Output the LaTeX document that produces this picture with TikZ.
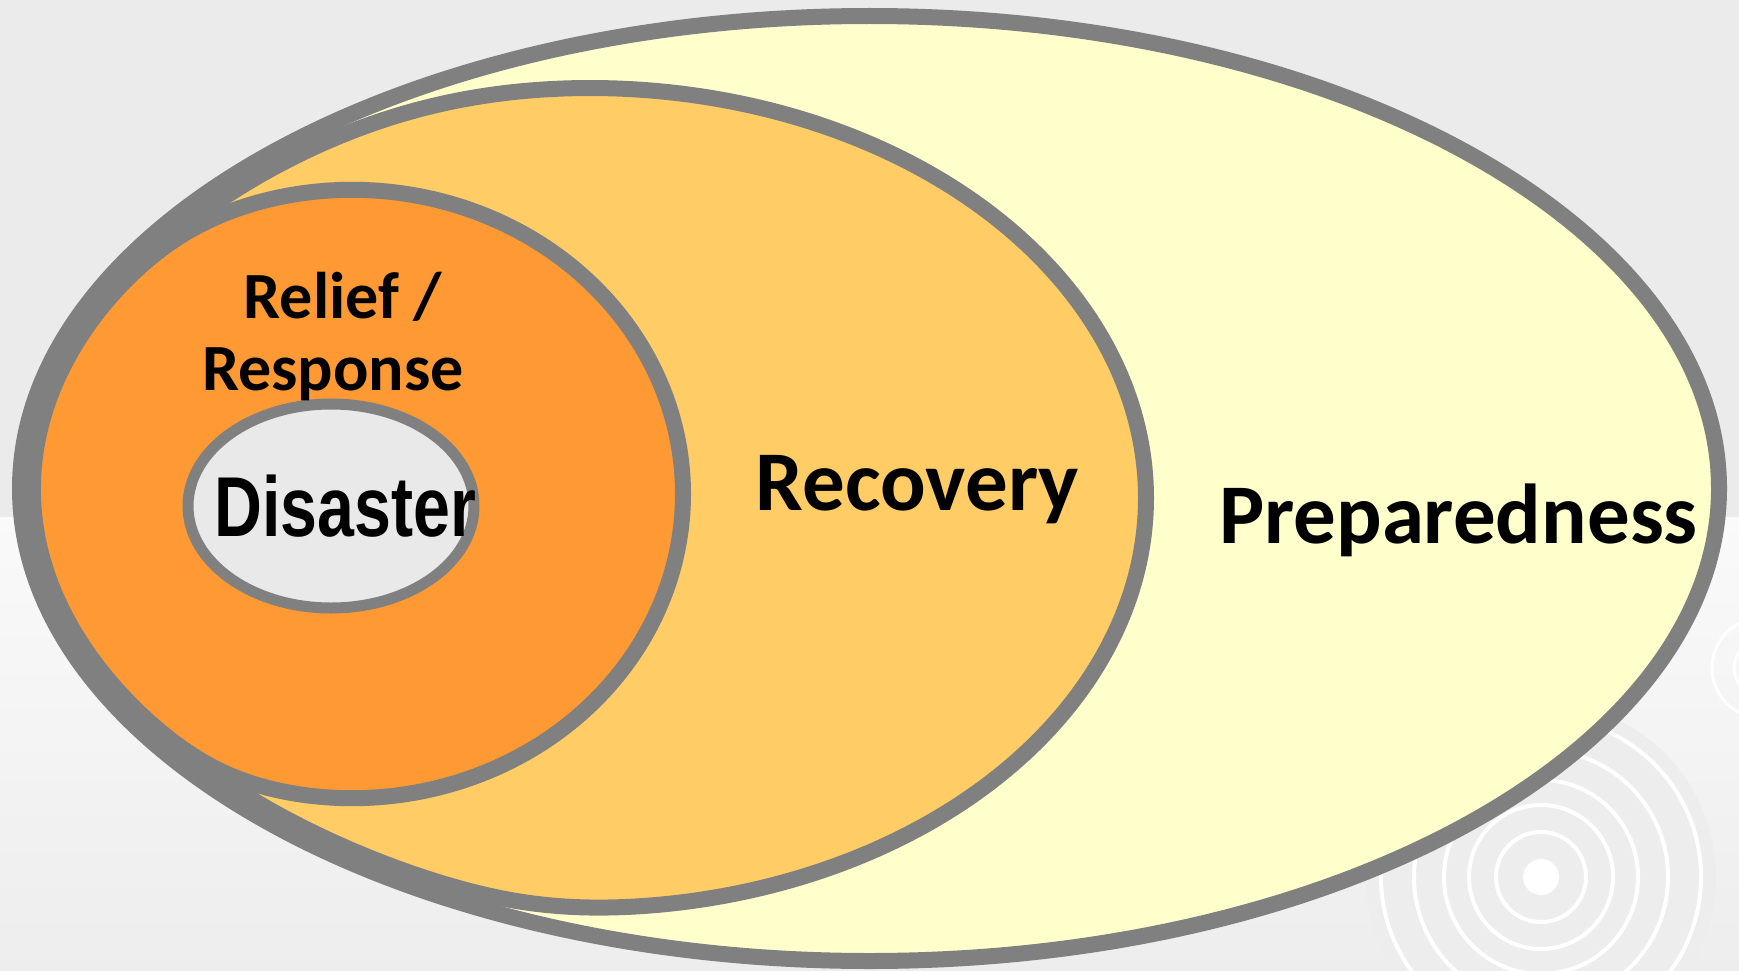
\documentclass[tikz,border=0pt]{standalone}
\usepackage{fontspec}
\setmainfont{Carlito}
\newfontfamily\narrowfont{Liberation Sans}
\definecolor{rimgray}{HTML}{808080}
\definecolor{prepfill}{HTML}{FFFFCC}
\definecolor{recfill}{HTML}{FFCC66}
\definecolor{relfill}{HTML}{FF9933}
\definecolor{disfill}{HTML}{E9E9E9}
\definecolor{topgray}{HTML}{EBEBEB}
% inner rim that the inner ellipses lean on
\def\Scx{869.5}\def\Scy{488.5}\def\Sa{837.5}\def\Sb{460.5}\def\Sk{6}
% points of an ellipse (#2,#3,#4,#5) pressed softly into the inner rim
\newcommand\blobpath[5]{%
  \gdef#1{}%
  \foreach \t in {0,2,...,358}{%
    \edef\rE{\fpeval{1/sqrt((cosd(\t)/#4)^2+(sind(\t)/#5)^2)}}%
    \edef\qa{\fpeval{(cosd(\t)/\Sa)^2+(sind(\t)/\Sb)^2}}%
    \edef\qb{\fpeval{2*((#2-\Scx)*cosd(\t)/\Sa^2+(#3-\Scy)*sind(\t)/\Sb^2)}}%
    \edef\qc{\fpeval{((#2-\Scx)/\Sa)^2+((#3-\Scy)/\Sb)^2-1}}%
    \edef\rS{\fpeval{(-(\qb)+sqrt((\qb)^2-4*(\qa)*(\qc)))/(2*(\qa))}}%
    \edef\rR{\fpeval{min(\rE,\rS)-\Sk*ln(1+exp(-abs(\rE-\rS)/\Sk))}}%
    \xdef#1{#1 (\fpeval{round(#2+\rR*cosd(\t),2)},\fpeval{round(#3+\rR*sind(\t),2)})}%
  }%
}
\begin{document}
\begin{tikzpicture}[x=1pt,y=-1pt,
    ring/.style={draw=rimgray,line width=16pt,line join=round},
    biglabel/.style={font=\bfseries\fontsize{85}{85}\selectfont,inner sep=0pt,anchor=base},
    smalllabel/.style={font=\bfseries\fontsize{66}{66}\selectfont,inner sep=0pt,anchor=base}]
    \useasboundingbox (0,0) rectangle (1739,971);
    % background
    \fill[topgray] (0,0) rectangle (1739,517);
    \shade[top color=black!2, bottom color=black!7] (0,517) rectangle (1739,971);
    \fill[black!7] (1541,877) circle [radius=175];
    \foreach \r in {45,72,97,127,160}
        \draw[white,line width=4pt] (1541,877) circle [radius=\r];
    \fill[white] (1541,877) circle [radius=18];
    \foreach \r in {28,50}
        \draw[white,line width=3pt] (1762,668) circle [radius=\r];
    % preparedness
    \draw[ring,fill=prepfill] (869.5,488.5) ellipse [x radius=849.5, y radius=472.5];
    % recovery
    \blobpath\recpts{589.5}{498}{556.5}{410}
    \edef\recdraw{\noexpand\draw[ring,fill=recfill] plot[smooth cycle] coordinates {\recpts};}
    \recdraw
    % relief / response
    \blobpath\relpts{352}{494}{331}{304.2}
    \edef\reldraw{\noexpand\draw[ring,fill=relfill] plot[smooth cycle] coordinates {\relpts};}
    \reldraw
    % disaster
    \draw[draw=rimgray,line width=11pt,fill=disfill] (331,506) ellipse [x radius=143, y radius=102];
    % labels
    \node[smalllabel] (relief) at (343,318) {Relief /};
    \node[smalllabel] (response) at (333,390) {Response};
    \node[biglabel] (disaster) at (345.5,536) {\narrowfont\bfseries\scalebox{0.78}[1]{Disaster}};
    \node[biglabel] (recovery) at (917.5,510) {Recovery};
    \node[biglabel] (preparedness) at (1458.5,543) {Preparedness};
\end{tikzpicture}
\end{document}
